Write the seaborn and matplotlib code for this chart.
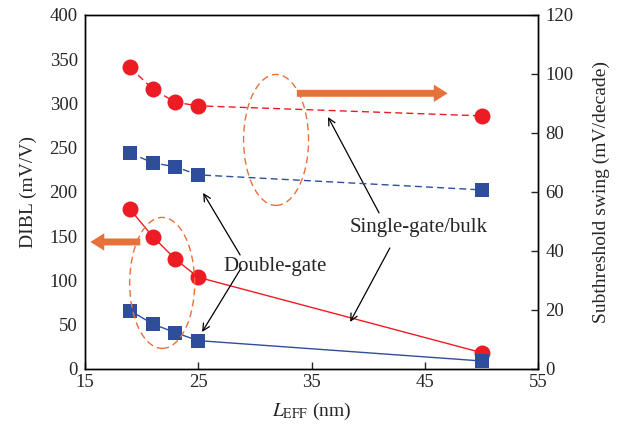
import matplotlib
matplotlib.use("Agg")
import matplotlib.pyplot as plt
import seaborn as sns
from matplotlib.patches import Ellipse

# Gate length (nm)
l_eff = [19, 21, 23, 25, 50]

# DIBL (mV/V), left axis
dibl_single = [180.4, 149.5, 124.0, 103.6, 18.4]
dibl_double = [65.9, 50.8, 41.0, 32.0, 9.0]

# Subthreshold swing (mV/decade), right axis
ss_single = [102.2, 94.9, 90.4, 89.2, 85.8]
ss_double = [73.2, 69.9, 68.5, 65.8, 60.7]

red = "#ED1C24"
blue = "#2E4E9B"
orange = "#E8703A"

sns.set_style("white")
plt.rcParams["font.family"] = ["Liberation Serif", "DejaVu Serif"]
plt.rcParams["mathtext.fontset"] = "stix"

fig = plt.figure(figsize=(6.32, 4.28), dpi=100)
ax = fig.add_axes([0.134, 0.138, 0.718, 0.827])
ax2 = ax.twinx()

# DIBL - solid lines
sns.lineplot(x=l_eff, y=dibl_single, ax=ax, color=red, lw=1, marker="o",
             markersize=11.5, markeredgewidth=0, markeredgecolor=red, zorder=3)
sns.lineplot(x=l_eff, y=dibl_double, ax=ax, color=blue, lw=1, marker="s",
             markersize=10, markeredgewidth=0, markeredgecolor=blue, zorder=3)

# Subthreshold swing - dashed lines
sns.lineplot(x=l_eff, y=ss_single, ax=ax2, color=red, lw=1, linestyle=(0, (5, 3)),
             marker="o", markersize=11.5, markeredgewidth=0, markeredgecolor=red)
sns.lineplot(x=l_eff, y=ss_double, ax=ax2, color=blue, lw=1, linestyle=(0, (5, 3)),
             marker="s", markersize=10, markeredgewidth=0, markeredgecolor=blue)

ax.set_xlim(15, 55)
ax.set_ylim(0, 400)
ax2.set_ylim(0, 120)
ax.set_xticks([15, 25, 35, 45, 55])
ax.set_yticks(range(0, 401, 50))
ax2.set_yticks(range(0, 121, 20))

for a in (ax, ax2):
    for s in a.spines.values():
        s.set_color("black")
        s.set_linewidth(1)
ax.tick_params(axis="x", direction="in", length=5, width=1, labelsize=13.5, pad=4, bottom=True)
ax.tick_params(axis="y", length=0, labelsize=13.5, pad=5)
ax2.tick_params(axis="y", direction="in", length=5, width=1, labelsize=13.5, pad=5, right=True)

ax.set_xlabel(r"$L_{\mathrm{EFF}}$ (nm)", fontsize=14, labelpad=7)
ax.set_ylabel("DIBL (mV/V)", fontsize=14, labelpad=9)
ax2.set_ylabel("Subthreshold swing (mV/decade)", fontsize=14, labelpad=14)

# dashed ellipses grouping the curves
for cx, cy in [(31.87, 258.8), (21.83, 97.2)]:
    ax.add_patch(Ellipse((cx, cy), 5.73, 148, fill=False, ec=orange,
                         lw=1, ls=(0, (5, 3)), zorder=4))

# thick orange arrows pointing to each axis
arrow_kw = dict(arrowstyle="simple,head_length=1.0,head_width=1.25,tail_width=0.5",
                mutation_scale=10, color=orange, lw=0, shrinkA=0, shrinkB=0)
ax.annotate("", xy=(47.0, 311.5), xytext=(33.7, 311.5), arrowprops=arrow_kw)
ax.annotate("", xy=(15.5, 143.5), xytext=(19.9, 143.5), arrowprops=arrow_kw)

# labels with black arrows
line_kw = dict(arrowstyle="->,head_length=0.5,head_width=0.25", color="black",
               lw=0.9, shrinkA=0, shrinkB=0)
ax.text(44.47, 159.3, "Single-gate/bulk", fontsize=15, ha="center", va="center")
ax.annotate("", xy=(36.45, 284.7), xytext=(40.95, 176.3), arrowprops=line_kw)
ax.annotate("", xy=(38.4, 53.1), xytext=(41.9, 136.7), arrowprops=line_kw)

ax.text(31.8, 115.3, "Double-gate", fontsize=15, ha="center", va="center")
ax.annotate("", xy=(25.44, 198.9), xytext=(28.7, 128.8), arrowprops=line_kw)
ax.annotate("", xy=(25.35, 41.8), xytext=(28.8, 114.1), arrowprops=line_kw)

fig.savefig("out.png", dpi=100)
